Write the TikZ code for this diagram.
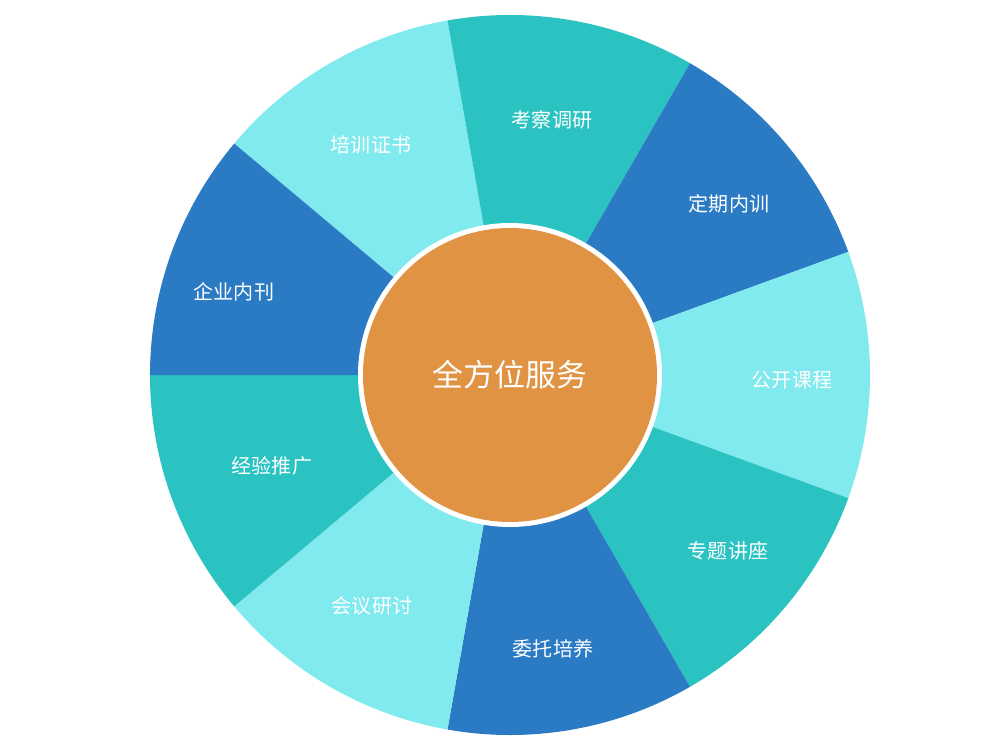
\documentclass[tikz,border=0pt]{standalone}
\usepackage{fontspec}
\setmainfont{Noto Sans CJK SC}
\usetikzlibrary{positioning}
\definecolor{lightcyan}{HTML}{80EAEE}
\definecolor{teal}{HTML}{2AC3C2}
\definecolor{wblue}{HTML}{2A7AC4}
\definecolor{hub}{HTML}{E09342}

\begin{document}
\begin{tikzpicture}[
			seg/.style={draw=none},
			label/.style={text=white, font=\fontsize{11.4pt}{13pt}\selectfont, align=center},
			hubtext/.style={text=white, font=\fontsize{17.6pt}{20pt}\selectfont}
		]
		\useasboundingbox (-10.2,-7.54) rectangle (9.84,7.5);
		% segments of the wheel
		\foreach \a/\c/\t/\p [count=\i] in {
				100/lightcyan/培训证书/{-2.78,4.60}, 60/teal/考察调研/{0.84,5.10},
				20/wblue/定期内训/{4.38,3.42}, -20/lightcyan/公开课程/{5.64,-0.10},
				-60/teal/专题讲座/{4.36,-3.52}, -100/wblue/委托培养/{0.86,-5.48},
				-140/lightcyan/会议研讨/{-2.76,-4.62}, 180/teal/经验推广/{-4.76,-1.82},
				140/wblue/企业内刊/{-5.52,1.66}} {
			\fill[seg, fill=\c] (0,0) -- (\a:7.2) arc[start angle=\a, delta angle=40, radius=7.2] -- cycle;
			\node[label] (seg\i) at (\p) {\t};
		}
		% centre
		\fill[white] (0,0) circle (3.04);
		\node[circle, fill=hub, minimum size=5.88cm, inner sep=0pt] (hub) at (0,0) {};
		\node[hubtext] (hublabel) at (hub.center) {全方位服务};
	\end{tikzpicture}
\end{document}
